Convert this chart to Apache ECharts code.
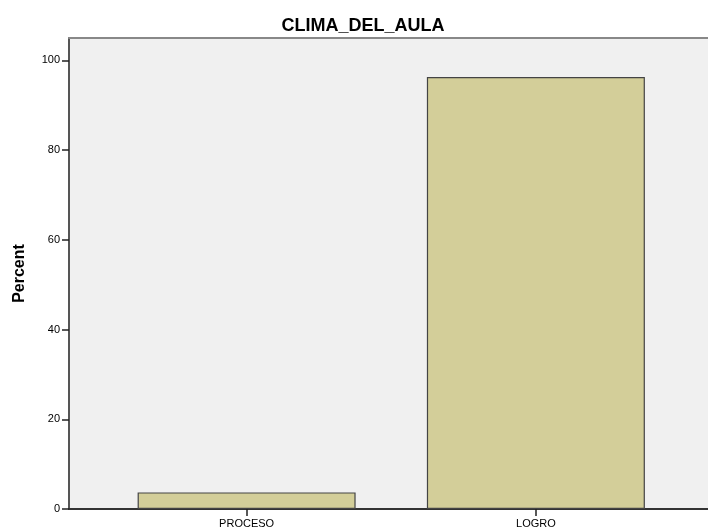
<!DOCTYPE html>
<html>
<head>
<meta charset="utf-8">
<script src="https://cdn.jsdelivr.net/npm/echarts@6/dist/echarts.min.js"></script>
<style>
html,body{margin:0;padding:0;background:#fff;}
#c{width:708px;height:530px;}
</style>
</head>
<body>
<div id="c"></div>
<script>
const title = 'CLIMA_DEL_AULA';
const categories = ['PROCESO', 'LOGRO'];
const percents = [3.7, 96.3];
const yAxisName = 'Percent';
const yTickValues = [0, 20, 40, 60, 80, 100];

const chart = echarts.init(document.getElementById('c'), null, {renderer: 'canvas'});
const font = '"Liberation Sans", Arial, sans-serif';
const seriesData = categories.map((c, i) => [i + 1, percents[i]]);

chart.setOption({
  animation: false,
  backgroundColor: '#ffffff',
  title: {
    text: title,
    left: 358,
    textAlign: 'center',
    top: 12,
    textStyle: {fontFamily: font, fontSize: 18, fontWeight: 'bold', color: '#000'}
  },
  grid: {
    left: 69, top: 38, bottom: 21, right: 0,
    show: true,
    backgroundColor: '#F0F0F0',
    borderWidth: 0
  },
  xAxis: [{
    type: 'value',
    min: 0.386,
    max: 2.595,
    splitLine: {show: false},
    axisLine: {show: true, onZero: false, lineStyle: {color: '#333', width: 2}},
    axisTick: {show: true, customValues: [1, 2], length: 7, lineStyle: {color: '#222', width: 1.5}},
    axisLabel: {
      customValues: [1, 2],
      formatter: v => categories[Math.round(v) - 1] || '',
      fontFamily: font, fontSize: 11, color: '#000', margin: 9
    }
  }, {
    type: 'value',
    position: 'top',
    min: 0.386,
    max: 2.595,
    splitLine: {show: false},
    axisLine: {show: true, onZero: false, lineStyle: {color: '#888', width: 2}},
    axisTick: {show: false},
    axisLabel: {show: false}
  }],
  yAxis: {
    type: 'value',
    min: 0,
    max: 105,
    interval: 20,
    name: yAxisName,
    nameLocation: 'middle',
    nameRotate: 90,
    nameGap: 41,
    nameTextStyle: {fontFamily: font, fontSize: 16, fontWeight: 'bold', color: '#000'},
    splitLine: {show: false},
    axisLine: {show: true, lineStyle: {color: '#555', width: 2}},
    axisTick: {show: true, customValues: yTickValues, length: 7, lineStyle: {color: '#222', width: 1.5}},
    axisLabel: {customValues: yTickValues, fontFamily: font, fontSize: 11, color: '#000', margin: 9}
  },
  series: [{
    type: 'bar',
    xAxisIndex: 0,
    data: seriesData,
    barWidth: 218,
    itemStyle: {color: '#D3CE99', borderColor: '#444', borderWidth: 1.2}
  }]
});
</script>
</body>
</html>
